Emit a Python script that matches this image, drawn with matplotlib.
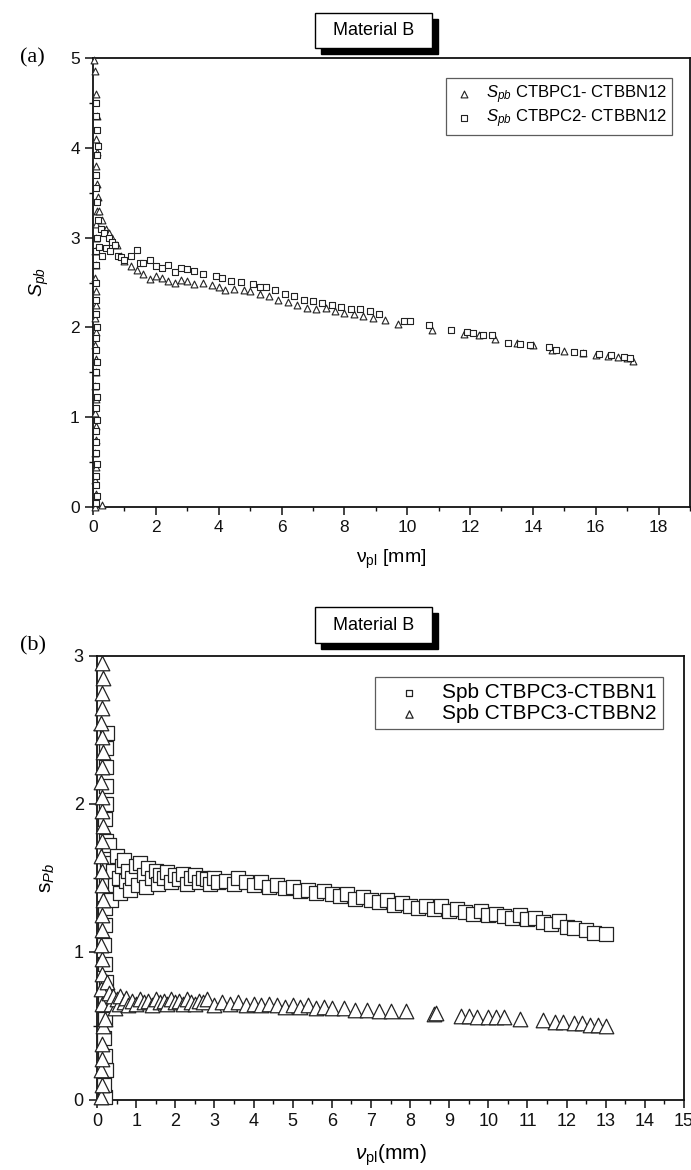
import matplotlib
matplotlib.use("Agg")
import matplotlib.pyplot as plt
from matplotlib.patches import Rectangle
from matplotlib.ticker import MultipleLocator

plt.rcParams["font.family"] = ["Liberation Sans", "DejaVu Sans"]
plt.rcParams["mathtext.fontset"] = "custom"
plt.rcParams["mathtext.rm"] = "Liberation Sans"
plt.rcParams["mathtext.it"] = "Liberation Sans:italic"
plt.rcParams["mathtext.default"] = "it"

# ---------------- panel (a) data ----------------
a_tri_x = [0.05, 0.08, 0.06, 0.09, 0.07, 0.10, 0.08, 0.06, 0.09, 0.07, 0.10, 0.08, 0.06, 0.09,
           0.07, 0.10, 0.08, 0.06, 0.09, 0.07, 0.08, 0.10, 0.12, 0.15, 0.12, 0.10, 0.12, 0.10,
           0.13, 0.10, 0.05, 0.03, 0.30,
           0.20, 0.30, 0.40, 0.50, 0.60, 0.75, 0.90, 1.0, 1.2, 1.4, 1.6, 1.8, 2.0, 2.2, 2.4,
           2.6, 2.8, 3.0, 3.2, 3.5, 3.8, 4.0, 4.2, 4.5, 4.8, 5.0, 5.3, 5.6, 5.9, 6.2, 6.5,
           6.8, 7.1, 7.4, 7.7, 8.0, 8.3, 8.6, 8.9, 9.3, 9.7, 10.8, 11.8, 12.3, 12.8, 13.5,
           14.0, 14.6, 15.0, 15.6, 16.0, 16.4, 16.7, 17.0, 17.2]
a_tri_y = [0.0, 0.15, 0.30, 0.45, 0.60, 0.75, 0.90, 1.05, 1.20, 1.35, 1.50, 1.65, 1.80, 1.95,
           2.10, 2.25, 2.40, 2.55, 2.70, 2.85, 3.00, 3.15, 3.30, 3.45, 3.60, 3.80, 3.95, 4.10,
           4.35, 4.60, 4.85, 4.98, 0.02,
           3.30, 3.20, 3.10, 3.05, 3.00, 2.92, 2.80, 2.74, 2.68, 2.64, 2.60, 2.54, 2.57, 2.55,
           2.52, 2.50, 2.53, 2.52, 2.48, 2.50, 2.47, 2.45, 2.42, 2.43, 2.42, 2.40, 2.37, 2.35,
           2.30, 2.28, 2.25, 2.22, 2.20, 2.22, 2.18, 2.16, 2.15, 2.13, 2.10, 2.08, 2.04, 1.97,
           1.93, 1.91, 1.87, 1.83, 1.80, 1.75, 1.74, 1.71, 1.69, 1.68, 1.67, 1.66, 1.63]

a_sq_x = [0.10, 0.12, 0.11, 0.10, 0.12, 0.10, 0.11, 0.10, 0.12, 0.10, 0.13, 0.11, 0.10, 0.12,
          0.10, 0.11, 0.12, 0.10, 0.11, 0.10, 0.11, 0.10, 0.12, 0.15, 0.12, 0.10, 0.11, 0.14,
          0.15, 0.12, 0.10, 0.11,
          0.20, 0.25, 0.30, 0.35, 0.40, 0.50, 0.55, 0.60, 0.70, 0.80, 0.90, 1.0, 1.2, 1.4,
          1.5, 1.6, 1.8, 2.0, 2.2, 2.4, 2.6, 2.8, 3.0, 3.2, 3.5, 3.9, 4.1, 4.4, 4.7, 5.1,
          5.3, 5.5, 5.8, 6.1, 6.4, 6.7, 7.0, 7.3, 7.6, 7.9, 8.2, 8.5, 8.8, 9.1, 9.9, 10.1,
          10.7, 11.4, 11.9, 12.1, 12.4, 12.7, 13.2, 13.6, 13.9, 14.5, 14.75, 15.3, 15.6,
          16.1, 16.5, 16.9, 17.1]
a_sq_y = [0.05, 0.12, 0.25, 0.35, 0.48, 0.60, 0.72, 0.85, 0.97, 1.10, 1.22, 1.35, 1.50, 1.62,
          1.75, 1.88, 2.00, 2.15, 2.30, 2.50, 2.70, 2.85, 3.00, 3.20, 3.40, 3.55, 3.70, 3.92,
          4.02, 4.20, 4.35, 4.50,
          2.90, 3.10, 2.80, 3.05, 2.88, 3.00, 2.85, 2.95, 2.92, 2.80, 2.78, 2.75, 2.80, 2.86,
          2.72, 2.72, 2.75, 2.68, 2.66, 2.70, 2.62, 2.66, 2.65, 2.63, 2.60, 2.57, 2.55, 2.52,
          2.51, 2.48, 2.45, 2.45, 2.42, 2.37, 2.35, 2.30, 2.29, 2.27, 2.25, 2.23, 2.21, 2.20,
          2.18, 2.15, 2.07, 2.07, 2.03, 1.97, 1.95, 1.94, 1.92, 1.91, 1.83, 1.82, 1.80, 1.78,
          1.75, 1.73, 1.71, 1.70, 1.69, 1.67, 1.66]

# ---------------- panel (b) data ----------------
b_sq_x = [0.20, 0.18, 0.22, 0.20, 0.19, 0.21, 0.20, 0.22, 0.20, 0.19, 0.21, 0.20, 0.22, 0.25,
          0.23, 0.20, 0.22, 0.24, 0.22, 0.24, 0.25,
          0.30, 0.35, 0.40, 0.45, 0.50, 0.55, 0.60, 0.65, 0.70, 0.75, 0.80, 0.85, 0.90, 1.0,
          1.05, 1.1, 1.2, 1.25, 1.3, 1.4, 1.5, 1.55, 1.6, 1.7, 1.8, 1.9, 2.0, 2.1, 2.2, 2.3,
          2.4, 2.5, 2.6, 2.7, 2.8, 2.9, 3.0, 3.1, 3.3, 3.5, 3.6, 3.8, 4.0, 4.2, 4.4, 4.6,
          4.8, 5.0, 5.2, 5.4, 5.6, 5.8, 6.0, 6.2, 6.4, 6.6, 6.8, 7.0, 7.2, 7.4, 7.6, 7.8,
          8.0, 8.2, 8.4, 8.6, 8.8, 9.0, 9.2, 9.4, 9.6, 9.8, 10.0, 10.2, 10.4, 10.6, 10.8,
          11.0, 11.2, 11.4, 11.6, 11.8, 12.0, 12.2, 12.5, 12.7, 13.0]
b_sq_y = [0.02, 0.10, 0.20, 0.30, 0.42, 0.55, 0.68, 0.80, 0.92, 1.05, 1.18, 1.30, 1.45, 1.60,
          1.75, 1.90, 2.00, 2.12, 2.25, 2.38, 2.48,
          1.72, 1.35, 1.55, 1.45, 1.65, 1.50, 1.40, 1.58, 1.62, 1.48, 1.55, 1.42, 1.50, 1.58,
          1.45, 1.60, 1.52, 1.44, 1.57, 1.50, 1.55, 1.46, 1.52, 1.50, 1.54, 1.47, 1.52, 1.49,
          1.53, 1.46, 1.50, 1.52, 1.47, 1.50, 1.49, 1.46, 1.50, 1.47, 1.48, 1.46, 1.50, 1.47,
          1.45, 1.47, 1.44, 1.45, 1.43, 1.44, 1.41, 1.42, 1.40, 1.41, 1.39, 1.38, 1.39, 1.36,
          1.37, 1.35, 1.34, 1.35, 1.32, 1.33, 1.31, 1.30, 1.31, 1.29, 1.31, 1.28, 1.29, 1.27,
          1.26, 1.28, 1.25, 1.26, 1.24, 1.23, 1.25, 1.22, 1.23, 1.20, 1.19, 1.21, 1.17, 1.16,
          1.15, 1.13, 1.12]

b_tri_x = [0.10, 0.12, 0.10, 0.14, 0.12, 0.16, 0.20, 0.12, 0.10, 0.14, 0.12, 0.10, 0.14, 0.12,
           0.15, 0.12, 0.14, 0.10, 0.13, 0.15, 0.12, 0.14, 0.10, 0.13, 0.15, 0.12, 0.10, 0.14,
           0.12, 0.15, 0.13,
           0.25, 0.30, 0.35, 0.40, 0.45, 0.50, 0.55, 0.60, 0.70, 0.75, 0.80, 0.90, 1.0, 1.1,
           1.2, 1.3, 1.4, 1.5, 1.6, 1.7, 1.8, 1.9, 2.0, 2.1, 2.2, 2.3, 2.4, 2.5, 2.6, 2.7,
           2.8, 3.0, 3.2, 3.4, 3.6, 3.8, 4.0, 4.2, 4.4, 4.6, 4.8, 5.0, 5.2, 5.4, 5.6, 5.8,
           6.0, 6.3, 6.6, 6.9, 7.2, 7.5, 7.9, 8.6, 8.65, 9.3, 9.5, 9.7, 10.0, 10.2, 10.4,
           10.8, 11.4, 11.7, 11.9, 12.2, 12.4, 12.6, 12.8, 13.0]
b_tri_y = [0.02, 0.10, 0.20, 0.28, 0.38, 0.50, 0.55, 0.65, 0.75, 0.85, 0.95, 1.05, 1.15, 1.25,
           1.35, 1.45, 1.55, 1.65, 1.75, 1.85, 1.95, 2.05, 2.15, 2.25, 2.35, 2.45, 2.55, 2.65,
           2.75, 2.85, 2.95,
           0.80, 0.72, 0.65, 0.70, 0.62, 0.68, 0.65, 0.70, 0.66, 0.69, 0.64, 0.67, 0.65, 0.68,
           0.66, 0.67, 0.64, 0.68, 0.66, 0.67, 0.65, 0.68, 0.66, 0.67, 0.65, 0.68, 0.66, 0.65,
           0.67, 0.66, 0.68, 0.64, 0.66, 0.65, 0.66, 0.64, 0.65, 0.64, 0.65, 0.64, 0.63, 0.64,
           0.63, 0.64, 0.62, 0.63, 0.62, 0.62, 0.61, 0.61, 0.60, 0.60, 0.60, 0.58, 0.59, 0.57,
           0.57, 0.56, 0.56, 0.56, 0.56, 0.55, 0.54, 0.53, 0.53, 0.52, 0.52, 0.51, 0.51, 0.50]

W, H = 691, 1170
fig = plt.figure(figsize=(W / 100, H / 100), dpi=100)


def px_axes(left, right, top, bottom):
    return fig.add_axes([left / W, 1 - bottom / H, (right - left) / W, (bottom - top) / H])


def style_axes(ax, labelsize):
    for s in ax.spines.values():
        s.set_linewidth(1.3)
        s.set_color("#111111")
    ax.tick_params(which="major", direction="out", length=5.5, width=1.1,
                   labelsize=labelsize, colors="#111111", pad=4)
    ax.tick_params(which="minor", direction="out", length=3, width=1.0, colors="#111111")


def title_box(x0, x1, y0, y1, text):
    off = 6
    fig.patches.append(Rectangle(((x0 + off) / W, 1 - (y1 + off) / H), (x1 - x0) / W,
                                 (y1 - y0) / H, transform=fig.transFigure,
                                 facecolor="black", edgecolor="black", zorder=1))
    fig.patches.append(Rectangle((x0 / W, 1 - y1 / H), (x1 - x0) / W, (y1 - y0) / H,
                                 transform=fig.transFigure, facecolor="white",
                                 edgecolor="black", linewidth=1.0, zorder=2))
    fig.text((x0 + x1) / 2 / W, 1 - (y0 + y1) / 2 / H, text, ha="center", va="center",
             fontsize=13, zorder=3)


edge = "#222222"

# ---------------- panel (a) ----------------
ax1 = px_axes(93, 690, 58, 507)
style_axes(ax1, 12.5)
ax1.scatter(a_tri_x, a_tri_y, marker="^", s=24, facecolors="white", edgecolors=edge,
            linewidths=0.8, label=r"$S_{pb}$ CTBPC1- CTBBN12", clip_on=False, zorder=3)
ax1.scatter(a_sq_x, a_sq_y, marker="s", s=20, facecolors="white", edgecolors=edge,
            linewidths=0.8, label=r"$S_{pb}$ CTBPC2- CTBBN12", clip_on=False, zorder=3)
ax1.set_xlim(0, 19)
ax1.set_ylim(0, 5)
ax1.xaxis.set_major_locator(MultipleLocator(2))
ax1.xaxis.set_minor_locator(MultipleLocator(1))
ax1.yaxis.set_major_locator(MultipleLocator(1))
ax1.yaxis.set_minor_locator(MultipleLocator(0.5))
ax1.set_xlabel(r"$\mathrm{\nu}_{\mathrm{pl}}$ [mm]", fontsize=14, labelpad=9)
ax1.set_ylabel(r"$S_{pb}$", fontsize=14, labelpad=14)
leg1 = ax1.legend(loc="upper right", bbox_to_anchor=(0.970, 0.955), borderaxespad=0,
                  fontsize=12, frameon=True, fancybox=False, edgecolor="#333333",
                  handletextpad=0.5, borderpad=0.3, labelspacing=0.1, markerscale=1.0,
                  handlelength=1.6)
leg1.get_frame().set_linewidth(0.9)

# ---------------- panel (b) ----------------
ax2 = px_axes(97, 684, 656, 1100)
style_axes(ax2, 13)
ax2.scatter(b_sq_x, b_sq_y, marker="s", s=90, facecolors="white", edgecolors=edge,
            linewidths=0.9, label="Spb CTBPC3-CTBBN1", clip_on=False, zorder=3)
ax2.scatter(b_tri_x, b_tri_y, marker="^", s=110, facecolors="white", edgecolors=edge,
            linewidths=0.9, label="Spb CTBPC3-CTBBN2", clip_on=False, zorder=3)
ax2.set_xlim(0, 15)
ax2.set_ylim(0, 3)
ax2.xaxis.set_major_locator(MultipleLocator(1))
ax2.xaxis.set_minor_locator(MultipleLocator(0.5))
ax2.yaxis.set_major_locator(MultipleLocator(1))
ax2.yaxis.set_minor_locator(MultipleLocator(0.5))
ax2.set_xlabel(r"$\nu_{\mathrm{pl}}$(mm)", fontsize=15, labelpad=9)
ax2.set_ylabel(r"s$_{Pb}$", fontsize=15, labelpad=12)
leg2 = ax2.legend(loc="upper right", bbox_to_anchor=(0.964, 0.953), borderaxespad=0,
                  fontsize=15, frameon=True, fancybox=False, edgecolor="#333333",
                  handletextpad=0.3, borderpad=0.3, labelspacing=0.1, markerscale=0.5,
                  handlelength=2.6)
leg2.get_frame().set_linewidth(0.9)

# ---------------- panel headers ----------------
title_box(315, 432, 13, 48, "Material B")
title_box(315, 432, 607, 643, "Material B")
fig.text(20 / W, 1 - 58 / H, "(a)", fontsize=16, family="Liberation Serif", va="center")
fig.text(20 / W, 1 - 646 / H, "(b)", fontsize=16, family="Liberation Serif", va="center")

fig.savefig("out.png", dpi=100)
